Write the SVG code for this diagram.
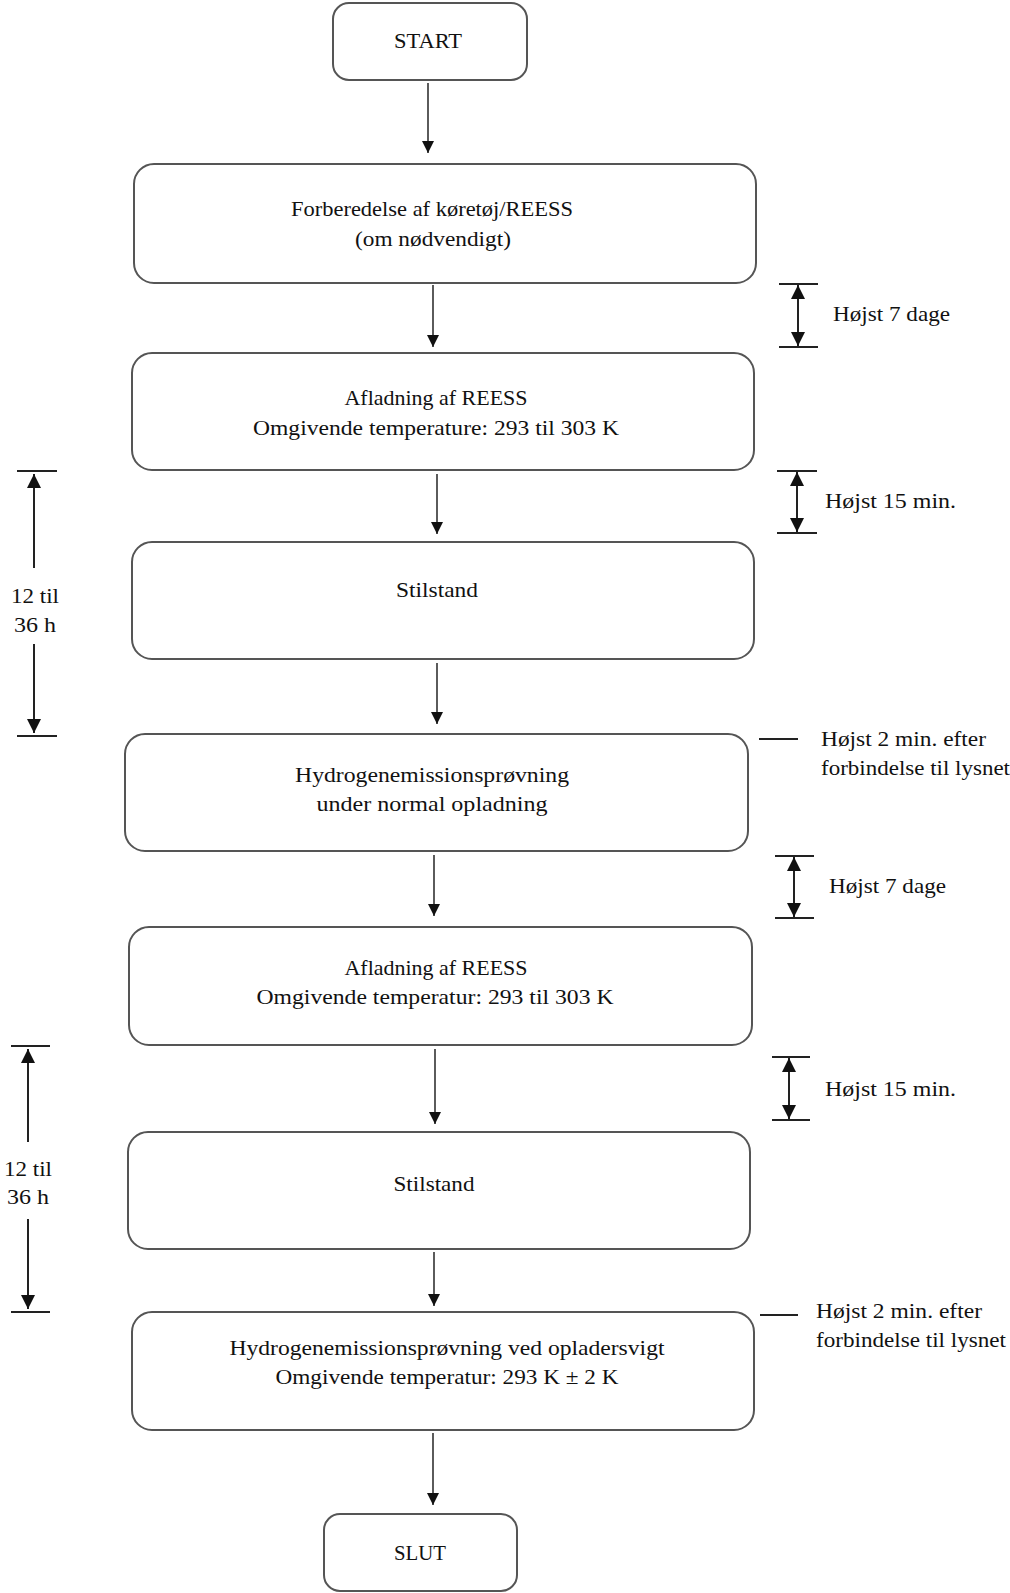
<svg xmlns="http://www.w3.org/2000/svg" width="1010" height="1593" viewBox="0 0 1010 1593">
<style>
.box{fill:#fff;stroke:#555;stroke-width:2}
.t{font-family:"Liberation Serif","Times New Roman",serif;font-size:22px;fill:#111;text-anchor:middle;dominant-baseline:central}
.s{font-family:"Liberation Serif","Times New Roman",serif;font-size:22px;fill:#111;dominant-baseline:central}
.c{stroke:#333;stroke-width:1.6;fill:none;marker-end:url(#ah)}
.d{stroke:#222;stroke-width:2;fill:none;marker-end:url(#dh);marker-start:url(#dh)}
.bar{stroke:#222;stroke-width:2}
</style>
<defs>
<marker id="ah" markerUnits="userSpaceOnUse" markerWidth="12" markerHeight="12" viewBox="0 0 10 10" refX="10" refY="5" orient="auto"><path d="M0,0 L10,5 L0,10 z" fill="#111"/></marker>
<marker id="dh" markerUnits="userSpaceOnUse" markerWidth="14" markerHeight="14" viewBox="0 0 10 10" refX="10" refY="5" orient="auto-start-reverse"><path d="M0,0 L10,5 L0,10 z" fill="#111"/></marker>
</defs>
<rect width="1010" height="1593" fill="#fff"/>

<g id="start"><rect class="box" x="333" y="3" width="194" height="77" rx="16"/><text class="t" x="428" y="40" textLength="68" lengthAdjust="spacingAndGlyphs">START</text></g>
<g id="prep"><rect class="box" x="134" y="164" width="622" height="119" rx="20"/><text class="t" x="432" y="208" textLength="282" lengthAdjust="spacingAndGlyphs">Forberedelse af køretøj/REESS</text><text class="t" x="433" y="238" textLength="156" lengthAdjust="spacingAndGlyphs">(om nødvendigt)</text></g>
<g id="discharge1"><rect class="box" x="132" y="353" width="622" height="117" rx="20"/><text class="t" x="436" y="397" textLength="183" lengthAdjust="spacingAndGlyphs">Afladning af REESS</text><text class="t" x="436" y="427" textLength="366" lengthAdjust="spacingAndGlyphs">Omgivende temperature: 293 til 303 K</text></g>
<g id="soak1"><rect class="box" x="132" y="542" width="622" height="117" rx="20"/><text class="t" x="437" y="589" textLength="82" lengthAdjust="spacingAndGlyphs">Stilstand</text></g>
<g id="h2normal"><rect class="box" x="125" y="734" width="623" height="117" rx="20"/><text class="t" x="432" y="774" textLength="274" lengthAdjust="spacingAndGlyphs">Hydrogenemissionsprøvning</text><text class="t" x="432" y="803" textLength="231" lengthAdjust="spacingAndGlyphs">under normal opladning</text></g>
<g id="discharge2"><rect class="box" x="129" y="927" width="623" height="118" rx="20"/><text class="t" x="436" y="967" textLength="183" lengthAdjust="spacingAndGlyphs">Afladning af REESS</text><text class="t" x="435" y="996" textLength="357" lengthAdjust="spacingAndGlyphs">Omgivende temperatur: 293 til 303 K</text></g>
<g id="soak2"><rect class="box" x="128" y="1132" width="622" height="117" rx="20"/><text class="t" x="434" y="1183" textLength="81" lengthAdjust="spacingAndGlyphs">Stilstand</text></g>
<g id="h2fail"><rect class="box" x="132" y="1312" width="622" height="118" rx="20"/><text class="t" x="447" y="1347" textLength="435" lengthAdjust="spacingAndGlyphs">Hydrogenemissionsprøvning ved opladersvigt</text><text class="t" x="447" y="1376" textLength="343" lengthAdjust="spacingAndGlyphs">Omgivende temperatur: 293 K ± 2 K</text></g>
<g id="slut"><rect class="box" x="324" y="1514" width="193" height="77" rx="16"/><text class="t" x="420" y="1552" textLength="52" lengthAdjust="spacingAndGlyphs">SLUT</text></g>

<g id="connectors">
<line class="c" x1="428" y1="83" x2="428" y2="153"/>
<line class="c" x1="433" y1="285" x2="433" y2="347"/>
<line class="c" x1="437" y1="474" x2="437" y2="534"/>
<line class="c" x1="437" y1="663" x2="437" y2="724"/>
<line class="c" x1="434" y1="855" x2="434" y2="916"/>
<line class="c" x1="435" y1="1049" x2="435" y2="1124"/>
<line class="c" x1="434" y1="1252" x2="434" y2="1306"/>
<line class="c" x1="433" y1="1433" x2="433" y2="1505"/>
</g>

<g id="dim-7dage-1">
<line class="bar" x1="779" y1="284" x2="818" y2="284"/><line class="bar" x1="779" y1="347" x2="818" y2="347"/>
<line class="d" x1="798" y1="285" x2="798" y2="346"/>
<text class="s" x="833" y="313" textLength="117" lengthAdjust="spacingAndGlyphs">Højst 7 dage</text>
</g>
<g id="dim-15min-1">
<line class="bar" x1="777" y1="471" x2="817" y2="471"/><line class="bar" x1="777" y1="533" x2="817" y2="533"/>
<line class="d" x1="797" y1="472" x2="797" y2="532"/>
<text class="s" x="825" y="500" textLength="131" lengthAdjust="spacingAndGlyphs">Højst 15 min.</text>
</g>
<g id="dim-12-36-1">
<line class="bar" x1="17" y1="471" x2="57" y2="471"/><line class="bar" x1="17" y1="736" x2="57" y2="736"/>
<line stroke="#222" stroke-width="2" x1="34" y1="568" x2="34" y2="474" marker-end="url(#dh)"/>
<line stroke="#222" stroke-width="2" x1="34" y1="644" x2="34" y2="733" marker-end="url(#dh)"/>
<text class="t" x="35" y="595" textLength="48" lengthAdjust="spacingAndGlyphs">12 til</text><text class="t" x="35" y="624" textLength="42" lengthAdjust="spacingAndGlyphs">36 h</text>
</g>
<g id="note-2min-1">
<line class="bar" x1="759" y1="739" x2="798" y2="739"/>
<text class="s" x="821" y="738" textLength="165" lengthAdjust="spacingAndGlyphs">Højst 2 min. efter</text>
<text class="s" x="821" y="767" textLength="189" lengthAdjust="spacingAndGlyphs">forbindelse til lysnet</text>
</g>
<g id="dim-7dage-2">
<line class="bar" x1="775" y1="856" x2="814" y2="856"/><line class="bar" x1="775" y1="918" x2="814" y2="918"/>
<line class="d" x1="794" y1="857" x2="794" y2="917"/>
<text class="s" x="829" y="885" textLength="117" lengthAdjust="spacingAndGlyphs">Højst 7 dage</text>
</g>
<g id="dim-15min-2">
<line class="bar" x1="772" y1="1057" x2="810" y2="1057"/><line class="bar" x1="772" y1="1120" x2="810" y2="1120"/>
<line class="d" x1="789" y1="1058" x2="789" y2="1119"/>
<text class="s" x="825" y="1088" textLength="131" lengthAdjust="spacingAndGlyphs">Højst 15 min.</text>
</g>
<g id="dim-12-36-2">
<line class="bar" x1="11" y1="1046" x2="50" y2="1046"/><line class="bar" x1="11" y1="1312" x2="50" y2="1312"/>
<line stroke="#222" stroke-width="2" x1="28" y1="1142" x2="28" y2="1049" marker-end="url(#dh)"/>
<line stroke="#222" stroke-width="2" x1="28" y1="1219" x2="28" y2="1309" marker-end="url(#dh)"/>
<text class="t" x="28" y="1168" textLength="48" lengthAdjust="spacingAndGlyphs">12 til</text><text class="t" x="28" y="1196" textLength="42" lengthAdjust="spacingAndGlyphs">36 h</text>
</g>
<g id="note-2min-2">
<line class="bar" x1="760" y1="1315" x2="798" y2="1315"/>
<text class="s" x="816" y="1310" textLength="166" lengthAdjust="spacingAndGlyphs">Højst 2 min. efter</text>
<text class="s" x="816" y="1339" textLength="190" lengthAdjust="spacingAndGlyphs">forbindelse til lysnet</text>
</g>
</svg>
